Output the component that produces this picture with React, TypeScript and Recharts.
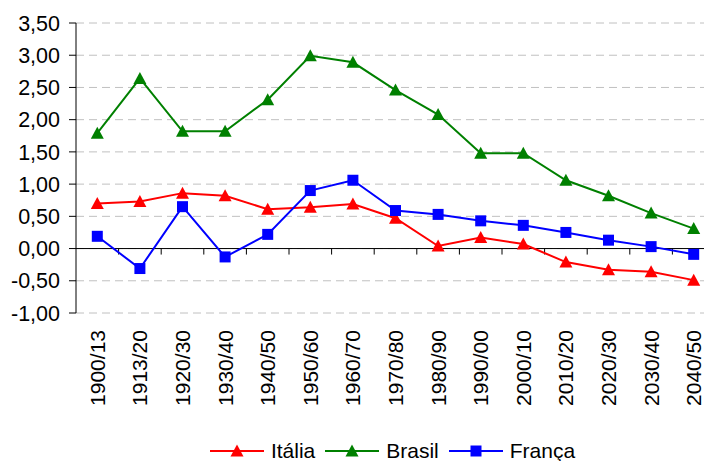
import React from "react"
import { CartesianGrid, Legend, Line, LineChart, ReferenceLine, XAxis, YAxis } from "recharts"

// períodos
const categories = [
    "1900/13", "1913/20", "1920/30", "1930/40", "1940/50", "1950/60", "1960/70", "1970/80",
    "1980/90", "1990/00", "2000/10", "2010/20", "2020/30", "2030/40", "2040/50",
]

const italia = [0.70, 0.73, 0.86, 0.82, 0.61, 0.64, 0.69, 0.47, 0.04, 0.17, 0.07, -0.21, -0.33, -0.36, -0.49]
const brasil = [1.79, 2.64, 1.82, 1.82, 2.31, 2.99, 2.89, 2.46, 2.08, 1.48, 1.48, 1.06, 0.82, 0.55, 0.31]
const franca = [0.19, -0.31, 0.65, -0.13, 0.22, 0.90, 1.06, 0.59, 0.53, 0.43, 0.36, 0.25, 0.13, 0.03, -0.09]

const yTicks = [-1, -0.5, 0, 0.5, 1, 1.5, 2, 2.5, 3, 3.5]

const FONT = "'Liberation Sans', Arial, sans-serif"

const series = [
    { key: "italia", name: "Itália", color: "#FF0000", shape: "triangle" },
    { key: "brasil", name: "Brasil", color: "#008000", shape: "triangle" },
    { key: "franca", name: "França", color: "#0000FF", shape: "square" },
]

const data = categories.map((periodo, i) => ({
    idx: i,
    periodo,
    italia: italia[i],
    brasil: brasil[i],
    franca: franca[i],
}))

const fmt = (v: number) => v.toFixed(2).replace(".", ",")

const markerPath = (shape: string, cx: number, cy: number) => {
    if (shape === "square") {
        return `M${cx - 5.5},${cy - 5.5}h11v11h-11z`
    }
    return `M${cx},${cy - 6.5}L${cx + 6.5},${cy + 5.5}L${cx - 6.5},${cy + 5.5}z`
}

const makeDot = (shape: string, color: string) => (props: any) => {
    const { cx, cy, index } = props
    if (cx == null || cy == null) return <g key={`d-${index}`} />
    return <path key={`d-${index}`} d={markerPath(shape, cx, cy)} fill={color} stroke="none" />
}

// rótulos verticais do eixo X
const PeriodTick = (props: any) => {
    const { x, y, payload } = props
    const label = categories[payload.value] ?? ""
    const ty = y + 9
    return (
        <text
            x={x}
            y={ty}
            dy="0.36em"
            textAnchor="end"
            transform={`rotate(-90, ${x}, ${ty})`}
            fontSize={21}
            fontFamily={FONT}
            fill="#000"
        >
            {label}
        </text>
    )
}

const LegendBox = () => (
    <div style={{ display: "flex", justifyContent: "center", alignItems: "center", height: 36, paddingTop: 16, paddingLeft: 80, boxSizing: "border-box", fontFamily: FONT, fontSize: 21, color: "#000", lineHeight: "16px" }}>
        {series.map((s) => (
            <div key={s.key} style={{ display: "flex", alignItems: "center", marginRight: 10 }}>
                <svg width={54} height={16} style={{ marginRight: 7 }}>
                    <line x1={0} y1={8} x2={54} y2={8} stroke={s.color} strokeWidth={2} />
                    <path d={markerPath(s.shape, 27, 8)} fill={s.color} />
                </svg>
                <span>{s.name}</span>
            </div>
        ))}
    </div>
)

export default function App() {
    const boundaries = categories.slice(1).map((_, k) => k + 0.5)

    return (
        <div style={{ position: "absolute", left: 0, top: 0, width: 704, height: 461, overflow: "hidden" }}>
            <LineChart width={715} height={461} data={data} margin={{ top: 23, right: 0, left: 0, bottom: 0 }}>
                <CartesianGrid vertical={false} stroke="#C0C0C0" strokeDasharray="8 5" />
                <XAxis
                    dataKey="idx"
                    type="number"
                    domain={[-0.5, 14.5]}
                    ticks={categories.map((_, i) => i)}
                    interval={0}
                    axisLine={false}
                    tickLine={false}
                    height={112}
                    tick={<PeriodTick />}
                    allowDataOverflow
                />
                <YAxis
                    domain={[-1, 3.5]}
                    ticks={yTicks}
                    tickFormatter={fmt}
                    width={76}
                    axisLine={{ stroke: "#000" }}
                    tickLine={{ stroke: "#000" }}
                    tickSize={7}
                    tickMargin={9}
                    tick={{ fontSize: 21.5, fontFamily: FONT, fill: "#000" }}
                    interval={0}
                    allowDataOverflow
                />
                <ReferenceLine y={0} stroke="#000" strokeWidth={1} />
                {boundaries.map((b) => (
                    <ReferenceLine
                        key={b}
                        segment={[{ x: b, y: 0 }, { x: b, y: -0.093 }]}
                        stroke="#000"
                        strokeWidth={1}
                    />
                ))}
                {series.map((s) => (
                    <Line
                        key={s.key}
                        dataKey={s.key}
                        name={s.name}
                        stroke={s.color}
                        strokeWidth={2}
                        dot={makeDot(s.shape, s.color)}
                        activeDot={false}
                        isAnimationActive={false}
                    />
                ))}
                <Legend verticalAlign="bottom" content={<LegendBox />} />
            </LineChart>
        </div>
    )
}
